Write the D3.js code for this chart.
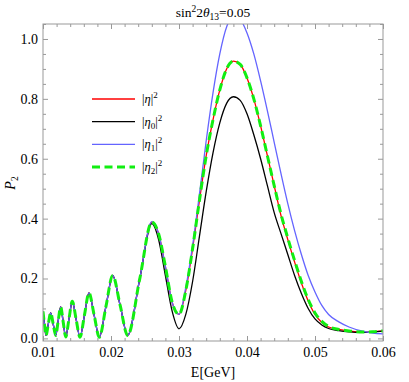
<!DOCTYPE html>
<html>
<head>
<meta charset="utf-8">
<script src="https://cdn.jsdelivr.net/npm/d3@7"></script>
<style>
  body { margin: 0; background: #fff; }
  svg { display: block; }
  .axis text { font-family: "Liberation Serif", "Times New Roman", serif; font-size: 14px; fill: #000; }
  .axis path { display: none; }
  .axis line { stroke: #999; }
</style>
</head>
<body>
<div id="chart"></div>
<script>
// common oscillating part (all four curves coincide here)
const energyLow = [0.0100, 0.01022, 0.01044, 0.01078, 0.01113, 0.0115, 0.01187, 0.01223, 0.0126,
  0.01297, 0.01334, 0.01382, 0.01431, 0.01487, 0.01544, 0.0161, 0.01676, 0.01752, 0.01828,
  0.01926, 0.02025, 0.02135, 0.02245, 0.02422];
const probLow = [0.090, 0.045, 0.010, 0.048, 0.085, 0.048, 0.010, 0.058, 0.105,
  0.055, 0.005, 0.065, 0.124, 0.064, 0.004, 0.078, 0.152, 0.078, 0.004,
  0.107, 0.210, 0.110, 0.010, 0.198];

// region where the curves separate
const energyHigh = [0.026, 0.027, 0.028, 0.029, 0.030, 0.031, 0.032, 0.033, 0.034, 0.035, 0.036,
  0.037, 0.038, 0.039, 0.040, 0.041, 0.042, 0.043, 0.044, 0.045, 0.046, 0.047, 0.048, 0.049,
  0.050, 0.051, 0.052, 0.0535, 0.055, 0.057, 0.0585, 0.060];
const probEta = [0.388, 0.35, 0.24, 0.12, 0.080, 0.16, 0.30, 0.46, 0.61, 0.73, 0.83,
  0.90, 0.926, 0.915, 0.87, 0.80, 0.71, 0.61, 0.51, 0.41, 0.33, 0.255, 0.185, 0.125,
  0.08, 0.053, 0.038, 0.030, 0.025, 0.021, 0.022, 0.025];
const probEta0 = [0.383, 0.33, 0.21, 0.09, 0.032, 0.08, 0.19, 0.34, 0.49, 0.62, 0.72,
  0.785, 0.807, 0.795, 0.75, 0.68, 0.60, 0.51, 0.42, 0.35, 0.28, 0.21, 0.15, 0.10,
  0.065, 0.045, 0.033, 0.026, 0.022, 0.020, 0.021, 0.024];
const probEta1 = [0.390, 0.35, 0.24, 0.12, 0.080, 0.17, 0.31, 0.48, 0.66, 0.82, 0.95,
  1.04, 1.075, 1.065, 1.02, 0.95, 0.86, 0.76, 0.655, 0.55, 0.45, 0.36, 0.28, 0.21,
  0.155, 0.11, 0.08, 0.055, 0.038, 0.024, 0.018, 0.015];
const probEta2 = [0.388, 0.35, 0.24, 0.12, 0.080, 0.16, 0.30, 0.46, 0.61, 0.73, 0.83,
  0.90, 0.926, 0.915, 0.87, 0.80, 0.71, 0.61, 0.51, 0.415, 0.335, 0.26, 0.19, 0.13,
  0.085, 0.057, 0.040, 0.030, 0.025, 0.021, 0.022, 0.025];

const xMajor = [0.01, 0.02, 0.03, 0.04, 0.05, 0.06];
const yMajor = [0.0, 0.2, 0.4, 0.6, 0.8, 1.0];

const series = [
  { name: 'eta', sub: '', values: probEta, color: '#ff0000', width: 1.3, dash: null },
  { name: 'eta0', sub: '0', values: probEta0, color: '#000000', width: 1.3, dash: null },
  { name: 'eta1', sub: '1', values: probEta1, color: '#6464ff', width: 1.3, dash: null },
  { name: 'eta2', sub: '2', values: probEta2, color: '#11ee11', width: 3, dash: '8,4.5' },
];

const svgwidth = 409;
const svgheight = 382;
const margin = { left: 43, right: 26, top: 24, bottom: 41 };

const svg = d3.select('#chart').append('svg')
  .attr('width', svgwidth)
  .attr('height', svgheight);

const x = d3.scaleLinear()
  .domain([0.01, 0.06])
  .range([margin.left, svgwidth - margin.right]);
const y = d3.scaleLinear()
  .domain([-0.0087, 1.05])
  .range([svgheight - margin.bottom, margin.top]);

const x0 = margin.left;
const x1 = svgwidth - margin.right;
const y0 = svgheight - margin.bottom;
const y1 = margin.top;

svg.append('clipPath').attr('id', 'clip')
  .append('rect')
  .attr('x', x0).attr('y', y1)
  .attr('width', x1 - x0).attr('height', y0 - y1);

// minor ticks
const xMinor = d3.range(0.01, 0.0601, 0.002).filter(v => !xMajor.some(m => Math.abs(m - v) < 1e-6));
const yMinor = d3.range(0, 1.051, 0.05).filter(v => !yMajor.some(m => Math.abs(m - v) < 1e-6));

svg.append('g').attr('class', 'axis')
  .attr('transform', `translate(0,${y0})`)
  .call(d3.axisBottom(x).tickValues(xMajor).tickSize(-5).tickPadding(6).tickFormat(d3.format('.2f')));
svg.append('g').attr('class', 'axis')
  .attr('transform', `translate(0,${y0})`)
  .call(d3.axisBottom(x).tickValues(xMinor).tickSize(-3).tickFormat(() => ''));
svg.append('g').attr('class', 'axis')
  .attr('transform', `translate(0,${y1})`)
  .call(d3.axisTop(x).tickValues(xMajor).tickSize(-5).tickFormat(() => ''));
svg.append('g').attr('class', 'axis')
  .attr('transform', `translate(0,${y1})`)
  .call(d3.axisTop(x).tickValues(xMinor).tickSize(-3).tickFormat(() => ''));

svg.append('g').attr('class', 'axis')
  .attr('transform', `translate(${x0},0)`)
  .call(d3.axisLeft(y).tickValues(yMajor).tickSize(-5).tickPadding(5).tickFormat(d3.format('.1f')));
svg.append('g').attr('class', 'axis')
  .attr('transform', `translate(${x0},0)`)
  .call(d3.axisLeft(y).tickValues(yMinor).tickSize(-3).tickFormat(() => ''));
svg.append('g').attr('class', 'axis')
  .attr('transform', `translate(${x1},0)`)
  .call(d3.axisRight(y).tickValues(yMajor).tickSize(-5).tickFormat(() => ''));
svg.append('g').attr('class', 'axis')
  .attr('transform', `translate(${x1},0)`)
  .call(d3.axisRight(y).tickValues(yMinor).tickSize(-3).tickFormat(() => ''));

// curves
const line = d3.line()
  .x(d => x(d[0]))
  .y(d => y(d[1]))
  .curve(d3.curveMonotoneX);

const plot = svg.append('g').attr('clip-path', 'url(#clip)');
series.forEach((s) => {
  const pts = energyLow.map((e, i) => [e, probLow[i]])
    .concat(energyHigh.map((e, i) => [e, s.values[i]]));
  plot.append('path')
    .datum(pts)
    .attr('fill', 'none')
    .attr('stroke', s.color)
    .attr('stroke-width', s.width)
    .attr('stroke-dasharray', s.dash)
    .attr('d', line);
});

// frame
svg.append('rect')
  .attr('x', x0).attr('y', y1)
  .attr('width', x1 - x0).attr('height', y0 - y1)
  .attr('fill', 'none')
  .attr('stroke', '#999')
  .attr('stroke-width', 1);

// legend
const legend = svg.append('g');
series.forEach((s, i) => {
  const ly = 99 + i * 22.7;
  legend.append('line')
    .attr('x1', 92).attr('x2', 135)
    .attr('y1', ly).attr('y2', ly)
    .attr('stroke', s.color)
    .attr('stroke-width', s.dash ? 3 : 1.3)
    .attr('stroke-dasharray', s.dash);
  const t = legend.append('text')
    .attr('x', 142).attr('y', ly + 4)
    .style('font-family', '"Liberation Serif", serif')
    .style('font-size', '12.5px');
  t.append('tspan').text('|');
  t.append('tspan').style('font-style', 'italic').text('η');
  if (s.sub) {
    t.append('tspan').attr('dy', 3).style('font-size', '9px').text(s.sub);
    t.append('tspan').attr('dy', -3).text('|');
  } else {
    t.append('tspan').text('|');
  }
  t.append('tspan').attr('dy', -5).style('font-size', '9px').text('2');
});

// title
const title = svg.append('text')
  .attr('x', (x0 + x1) / 2).attr('y', 17)
  .attr('text-anchor', 'middle')
  .style('font-family', '"Liberation Serif", serif')
  .style('font-size', '13.5px');
title.append('tspan').text('sin');
title.append('tspan').attr('dy', -5).style('font-size', '9.5px').text('2');
title.append('tspan').attr('dy', 5).text('2');
title.append('tspan').style('font-style', 'italic').text('θ');
title.append('tspan').attr('dy', 3).style('font-size', '9.5px').text('13');
title.append('tspan').attr('dy', -3).text('=0.05');

// axis labels
svg.append('text')
  .attr('x', (x0 + x1) / 2).attr('y', 377)
  .attr('text-anchor', 'middle')
  .style('font-family', '"Liberation Serif", serif')
  .style('font-size', '14px')
  .text('E[GeV]');

const yl = svg.append('text')
  .attr('transform', 'translate(15,183) rotate(-90)')
  .attr('text-anchor', 'middle')
  .style('font-family', '"Liberation Serif", serif')
  .style('font-size', '14px');
yl.append('tspan').style('font-style', 'italic').text('P');
yl.append('tspan').attr('dy', 3).style('font-size', '9.5px').text('2');
</script>
</body>
</html>
